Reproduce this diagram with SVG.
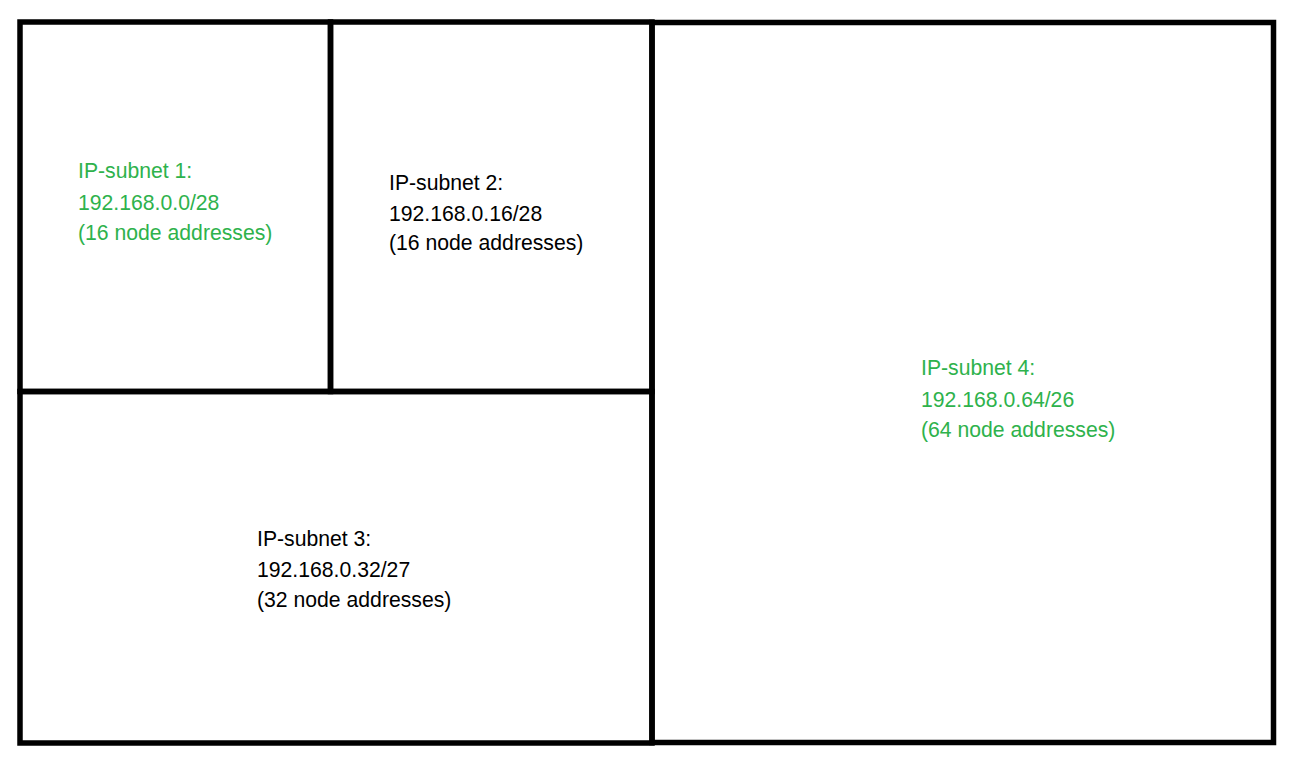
<svg xmlns="http://www.w3.org/2000/svg" width="1295" height="764" viewBox="0 0 1295 764">
<style>
  .box { fill: none; stroke: #000; stroke-width: 5.5; stroke-linecap: square; }
  .lbl { font-family: "Liberation Sans", Arial, sans-serif; font-size: 21.2px; }
  .green { fill: #2EB24C; }
  .black { fill: #000; }
</style>
<rect x="0" y="0" width="1295" height="764" fill="#fff"/>
<g id="subnet1">
  <rect class="box" x="20" y="22" width="310.5" height="369.5"/>
  <text class="lbl green" x="78" y="178">IP-subnet 1:</text>
  <text class="lbl green" x="78" y="210">192.168.0.0/28</text>
  <text class="lbl green" x="78" y="240">(16 node addresses)</text>
</g>
<g id="subnet2">
  <rect class="box" x="330.5" y="22" width="321.5" height="369.5"/>
  <text class="lbl black" x="389" y="190">IP-subnet 2:</text>
  <text class="lbl black" x="389" y="221">192.168.0.16/28</text>
  <text class="lbl black" x="389" y="250">(16 node addresses)</text>
</g>
<g id="subnet3">
  <rect class="box" x="20" y="391.5" width="632" height="351.5"/>
  <text class="lbl black" x="257" y="546">IP-subnet 3:</text>
  <text class="lbl black" x="257" y="577">192.168.0.32/27</text>
  <text class="lbl black" x="257" y="607">(32 node addresses)</text>
</g>
<g id="subnet4">
  <rect class="box" x="652" y="22.5" width="621.5" height="720"/>
  <text class="lbl green" x="921" y="375">IP-subnet 4:</text>
  <text class="lbl green" x="921" y="407">192.168.0.64/26</text>
  <text class="lbl green" x="921" y="437">(64 node addresses)</text>
</g>
<g id="connectors"></g>
</svg>
